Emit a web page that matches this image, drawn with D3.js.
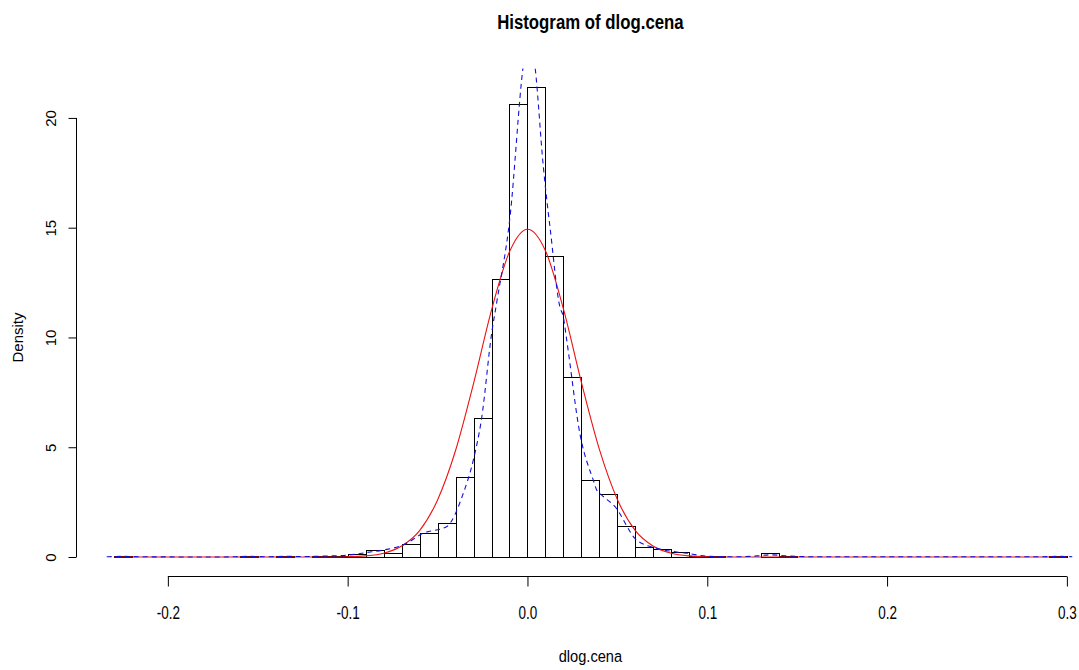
<!DOCTYPE html>
<html>
<head>
<meta charset="utf-8">
<script src="https://cdn.jsdelivr.net/npm/d3@7"></script>
<style>
  html, body { margin: 0; padding: 0; background: #fff; }
  svg { display: block; }
  text { font-family: "Liberation Sans", Arial, sans-serif; }
</style>
</head>
<body>
<svg id="chart" width="1079" height="670"></svg>
<script>
// histogram breaks (left edges, width 0.01) and density of each bin
const binStarts = [
  -0.23, -0.22, -0.21, -0.20, -0.19, -0.18, -0.17, -0.16, -0.15, -0.14,
  -0.13, -0.12, -0.11, -0.10, -0.09, -0.08, -0.07, -0.06, -0.05, -0.04,
  -0.03, -0.02, -0.01, 0.00, 0.01, 0.02, 0.03, 0.04, 0.05, 0.06,
  0.07, 0.08, 0.09, 0.10, 0.11, 0.12, 0.13, 0.14, 0.15, 0.16,
  0.17, 0.18, 0.19, 0.20, 0.21, 0.22, 0.23, 0.24, 0.25, 0.26,
  0.27, 0.28, 0.29
];
const binDensity = [
  0.06, 0, 0, 0, 0, 0, 0, 0.06, 0, 0.06,
  0, 0.06, 0.06, 0.14, 0.33, 0.17, 0.59, 1.09, 1.53, 3.66,
  6.32, 12.68, 20.64, 21.40, 13.71, 8.21, 3.50, 2.86, 1.43, 0.44,
  0.35, 0.22, 0.06, 0.06, 0, 0, 0.17, 0.06, 0, 0,
  0, 0, 0, 0, 0, 0, 0, 0, 0, 0,
  0, 0, 0.06
];
const binWidth = 0.01;

// red curve: fitted normal density
const normalX = [-0.23, -0.12, -0.11, -0.10, -0.09, -0.08, -0.07, -0.06, -0.05, -0.04,
  -0.03, -0.02, -0.01, 0.00, 0.01, 0.02, 0.03, 0.04, 0.05, 0.06,
  0.07, 0.08, 0.09, 0.10, 0.11, 0.12, 0.30];
const normalY = [0, 0, 0.002, 0.013, 0.05, 0.17, 0.5, 1.2, 2.6, 4.85,
  7.9, 11.25, 13.9, 14.93, 13.95, 11.3, 7.95, 4.9, 2.62, 1.2,
  0.49, 0.17, 0.05, 0.013, 0.002, 0, 0];

// blue dashed curve: kernel density estimate
const kdeX = [-0.234, -0.225, -0.215, -0.17, -0.155, -0.145, -0.135, -0.125, -0.115, -0.105,
  -0.099, -0.09, -0.08, -0.069, -0.058, -0.045, -0.0357, -0.0301, -0.0255, -0.0199,
  -0.0171, -0.0097, -0.0024, 0.001, 0.0042, 0.0088, 0.0107, 0.0125, 0.018, 0.0199,
  0.0218, 0.0292, 0.0366, 0.0385, 0.0413, 0.0487, 0.0607, 0.0719, 0.0885, 0.1015,
  0.115, 0.128, 0.135, 0.145, 0.16, 0.285, 0.295, 0.303];
const kdeY = [0.01, 0.03, 0.01, 0.0, 0.03, 0.01, 0.03, 0.02, 0.04, 0.06,
  0.09, 0.2, 0.32, 0.55, 1.08, 1.38, 2.9, 4.42, 6.32, 10.2,
  11.6, 15.5, 22.34, 24.0, 22.34, 17.8, 16.3, 15.05, 11.4, 10.95,
  9.9, 5.6, 3.5, 3.05, 2.82, 2.29, 0.77, 0.4, 0.17, 0.03,
  0.01, 0.05, 0.1, 0.05, 0.01, 0.01, 0.03, 0.01];

const xTicks = [-0.2, -0.1, 0.0, 0.1, 0.2, 0.3];
const yTicks = [0, 5, 10, 15, 20];

const titleText = "Histogram of dlog.cena";
const xLabel = "dlog.cena";
const yLabel = "Density";

// --- plot region (R usr: breaks range / max density, each padded by 4%)
const svg = d3.select("#chart");
const xDom = [-0.23, 0.30];
const yMax = d3.max(binDensity);
const xPad = (xDom[1] - xDom[0]) * 0.04;
const yPad = yMax * 0.04;

const x = d3.scaleLinear()
  .domain([xDom[0] - xPad, xDom[1] + xPad])
  .range([75.8, 1105]);
const y = d3.scaleLinear()
  .domain([-yPad, yMax + yPad])
  .range([575.8, 68.4]);

svg.append("defs").append("clipPath").attr("id", "plotClip")
  .append("rect")
  .attr("x", x.range()[0]).attr("y", y.range()[1])
  .attr("width", x.range()[1] - x.range()[0])
  .attr("height", y.range()[0] - y.range()[1]);

// bars
svg.append("g")
  .selectAll("rect")
  .data(binStarts.map((b, i) => ({ x0: b, d: binDensity[i] })))
  .join("rect")
  .attr("x", d => Math.round(x(d.x0)) + 0.5)
  .attr("width", d => Math.round(x(d.x0 + binWidth)) - Math.round(x(d.x0)))
  .attr("y", d => Math.round(y(d.d)) + 0.5)
  .attr("height", d => Math.round(y(0)) - Math.round(y(d.d)))
  .attr("fill", "#fff")
  .attr("stroke", "#000")
  .attr("stroke-width", 1);

const curves = svg.append("g").attr("clip-path", "url(#plotClip)");

// normal curve
curves.append("path")
  .datum(normalX.map((v, i) => [v, normalY[i]]))
  .attr("fill", "none")
  .attr("stroke", "#ee1111")
  .attr("stroke-width", 1.1)
  .attr("d", d3.line().x(d => x(d[0])).y(d => y(d[1])).curve(d3.curveMonotoneX));

// kernel density
curves.append("path")
  .datum(kdeX.map((v, i) => [v, kdeY[i]]))
  .attr("fill", "none")
  .attr("stroke", "#1010dd")
  .attr("stroke-width", 1.1)
  .attr("stroke-dasharray", "5,4")
  .attr("d", d3.line().x(d => x(d[0])).y(d => y(d[1])).curve(d3.curveMonotoneX));

// x axis (R style: hyphen minus, line only between outer ticks)
const xAxis = svg.append("g")
  .attr("transform", `translate(0,${Math.round(y.range()[0]) + 0.5})`)
  .call(d3.axisBottom(x).tickValues(xTicks).tickSize(10).tickSizeOuter(0)
    .tickFormat(d => d.toFixed(1)));
xAxis.select(".domain").remove();
xAxis.append("line")
  .attr("x1", x(xTicks[0])).attr("x2", x(xTicks[xTicks.length - 1]))
  .attr("stroke", "#000");
xAxis.selectAll(".tick line").attr("stroke", "#000");
xAxis.selectAll(".tick text")
  .attr("font-size", 18)
  .attr("fill", "#000")
  .attr("y", 0)
  .attr("dy", 0)
  .attr("transform", "translate(0,42) scale(0.75,1)");

// y axis
const yAxis = svg.append("g")
  .attr("transform", `translate(${Math.round(x.range()[0]) + 0.5},0)`)
  .call(d3.axisLeft(y).tickValues(yTicks).tickSize(8).tickSizeOuter(0));
yAxis.select(".domain").remove();
yAxis.append("line")
  .attr("y1", y(yTicks[0])).attr("y2", y(yTicks[yTicks.length - 1]))
  .attr("stroke", "#000");
yAxis.selectAll(".tick line").attr("stroke", "#000");
yAxis.selectAll(".tick text")
  .attr("font-size", 15)
  .attr("fill", "#000")
  .attr("x", 0)
  .attr("dy", 0)
  .attr("text-anchor", "middle")
  .attr("transform", "translate(-21,0) rotate(-90)");

// titles (horizontally condensed like the source image)
const cx = (x.range()[0] + x.range()[1]) / 2;
svg.append("text")
  .attr("transform", `translate(${cx},29) scale(0.84,1)`)
  .attr("text-anchor", "middle")
  .attr("font-size", 20)
  .attr("font-weight", "bold")
  .text(titleText);

svg.append("text")
  .attr("transform", `translate(${cx},662) scale(0.86,1)`)
  .attr("text-anchor", "middle")
  .attr("font-size", 17)
  .text(xLabel);

svg.append("text")
  .attr("transform", `translate(23,${(y(0) + y(20)) / 2}) rotate(-90)`)
  .attr("text-anchor", "middle")
  .attr("font-size", 15)
  .text(yLabel);
</script>
</body>
</html>
